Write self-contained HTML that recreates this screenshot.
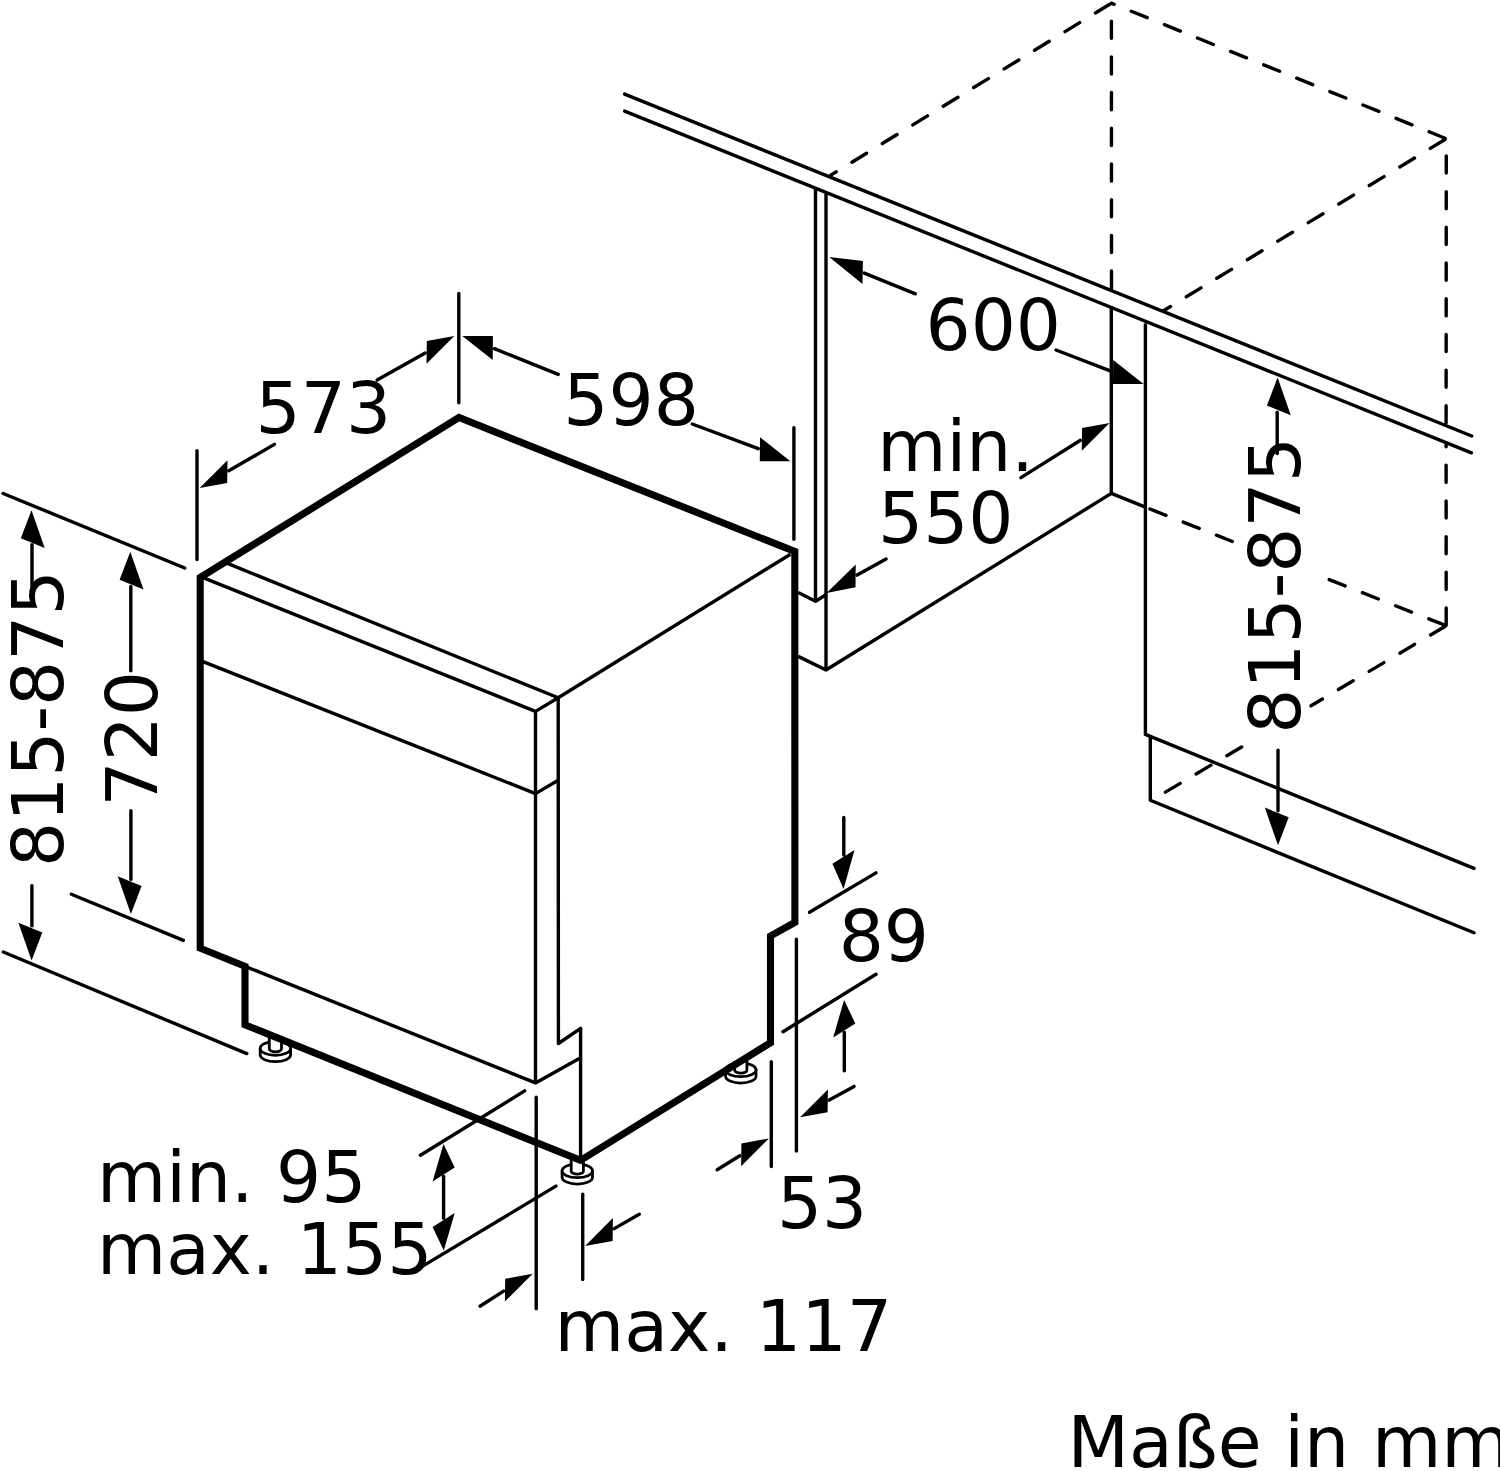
<!DOCTYPE html>
<html lang="de"><head><meta charset="utf-8"><title>Maße in mm</title>
<style>
html,body{margin:0;padding:0;background:#fff;}
body{width:1500px;height:1471px;overflow:hidden;}
svg{display:block;}
text{font-family:"DejaVu Sans","Liberation Sans",sans-serif;fill:#000;stroke:none;}
</style></head><body>
<svg width="1500" height="1471" viewBox="0 0 1500 1471" stroke="#000" fill="none">
<rect x="0" y="0" width="1500" height="1471" fill="#fff" stroke="none"/>
<g stroke-width="2.8" fill="#fff" stroke-linejoin="round"><path d="M260.2,1048.4 v6.4 a15.2,6.9 0 0 0 30.4,0 v-6.4 z"/><ellipse cx="275.4" cy="1048.4" rx="15.2" ry="6.9"/><path d="M269.3,1037.0 V1048.8 a6.1,3.0 0 0 0 12.2,0 V1037.0"/></g>
<g stroke-width="2.8" fill="#fff" stroke-linejoin="round"><path d="M562.1,1170.8 v6.4 a15.2,6.9 0 0 0 30.4,0 v-6.4 z"/><ellipse cx="577.3" cy="1170.8" rx="15.2" ry="6.9"/><path d="M571.2,1158.0 V1171.2 a6.1,3.0 0 0 0 12.2,0 V1158.0"/></g>
<g stroke-width="2.8" fill="#fff" stroke-linejoin="round"><path d="M725.6,1069.8 v6.4 a15.2,6.9 0 0 0 30.4,0 v-6.4 z"/><ellipse cx="740.8" cy="1069.8" rx="15.2" ry="6.9"/><path d="M734.7,1061.0 V1070.2 a6.1,3.0 0 0 0 12.2,0 V1061.0"/></g>
<polyline points="794.8,551.5 459.0,417.5 200.2,577.5 200.2,948.2 245.0,966.3 245.0,1024.8 580.5,1160.4 770.5,1042.7 770.5,936.0 794.9,922.4 794.8,551.5 459.0,417.5" stroke-width="7.1" stroke-linejoin="miter" stroke-linecap="butt" fill="none" />
<polyline points="227.5,563.4 558.2,697.8 790.5,554.2" stroke-width="3.4" stroke-linejoin="round" stroke-linecap="butt" fill="none" />
<polyline points="203.0,577.6 535.5,711.4 558.2,697.8" stroke-width="3.4" stroke-linejoin="round" stroke-linecap="butt" fill="none" />
<polyline points="203.0,661.6 535.5,793.6 558.6,780.0" stroke-width="3.4" stroke-linejoin="round" stroke-linecap="butt" fill="none" />
<line x1="535.5" y1="711.4" x2="535.5" y2="1082.9" stroke-width="3.4" stroke-linecap="butt" />
<polyline points="558.2,697.8 558.4,1043.5 580.6,1028.3 580.6,1157.0" stroke-width="3.4" stroke-linejoin="round" stroke-linecap="butt" fill="none" />
<polyline points="245.0,966.3 535.5,1082.9 580.6,1057.8" stroke-width="3.4" stroke-linejoin="round" stroke-linecap="butt" fill="none" />
<polyline points="1111.4,3.2 831.0,175.0" fill="none" stroke-width="3.4" stroke-linecap="round" stroke-linejoin="round" stroke-dasharray="17.2 18.5" stroke-dashoffset="-1.5"/>
<polyline points="1111.4,3.2 1111.5,291.0" fill="none" stroke-width="3.4" stroke-linecap="round" stroke-linejoin="round" stroke-dasharray="17.2 18.5" stroke-dashoffset="17.75"/>
<polyline points="1111.4,3.2 1446.3,138.7 1446.1,426.0" fill="none" stroke-width="3.4" stroke-linecap="round" stroke-linejoin="round" stroke-dasharray="17.2 18.5" stroke-dashoffset="14.25"/>
<polyline points="1446.3,138.7 1163.0,311.0" fill="none" stroke-width="3.4" stroke-linecap="round" stroke-linejoin="round" stroke-dasharray="17.2 18.5" stroke-dashoffset="-1.5"/>
<polyline points="1446.2,625.7 1446.1,444.5" fill="none" stroke-width="3.4" stroke-linecap="round" stroke-linejoin="round" stroke-dasharray="17.2 18.5" stroke-dashoffset="-0.5"/>
<polyline points="1446.2,625.7 1325.0,578.0" fill="none" stroke-width="3.4" stroke-linecap="round" stroke-linejoin="round" stroke-dasharray="17.2 18.5" stroke-dashoffset="-1.5"/>
<polyline points="1446.2,625.7 1311.0,705.8" fill="none" stroke-width="3.4" stroke-linecap="round" stroke-linejoin="round" stroke-dasharray="17.2 18.5" stroke-dashoffset="-1.0"/>
<polyline points="1145.4,507.2 1236.0,542.9" fill="none" stroke-width="3.4" stroke-linecap="round" stroke-linejoin="round" stroke-dasharray="17.2 18.5" stroke-dashoffset="-4.9"/>
<polyline points="1165.4,792.1 1245.0,745.0" fill="none" stroke-width="3.4" stroke-linecap="round" stroke-linejoin="round" stroke-dasharray="17.2 18.5" stroke-dashoffset="0"/>
<polygon points="623,93.5 1473.3,436.6 1473,453.4 623,110.5" fill="#fff" stroke="none"/>
<line x1="624.6" y1="94.1" x2="1471.7" y2="436.0" stroke-width="3.4" stroke-linecap="round" />
<line x1="624.6" y1="111.1" x2="1471.4" y2="452.8" stroke-width="3.4" stroke-linecap="round" />
<polyline points="815.5,188.6 815.5,601.3" stroke-width="3.4" stroke-linejoin="round" stroke-linecap="butt" fill="none" />
<polyline points="826.0,193.7 826.0,670.0" stroke-width="3.4" stroke-linejoin="round" stroke-linecap="butt" fill="none" />
<polyline points="798.2,592.5 815.5,601.3 826.0,594.8" stroke-width="3.4" stroke-linejoin="round" stroke-linecap="butt" fill="none" />
<polyline points="798.2,656.4 826.0,670.0 1111.3,493.4" stroke-width="3.4" stroke-linejoin="round" stroke-linecap="butt" fill="none" />
<polyline points="1111.3,306.0 1111.3,493.4 1145.4,507.2" stroke-width="3.4" stroke-linejoin="round" stroke-linecap="butt" fill="none" />
<polyline points="1145.4,324.6 1145.4,734.4 1474.0,868.4" stroke-width="3.4" stroke-linejoin="round" stroke-linecap="round" fill="none" />
<polyline points="1150.3,736.8 1150.3,800.3 1474.0,932.8" stroke-width="3.4" stroke-linejoin="round" stroke-linecap="round" fill="none" />
<line x1="458.8" y1="293.4" x2="458.8" y2="402.7" stroke-width="3.4" stroke-linecap="round" />
<line x1="197.0" y1="450.7" x2="197.0" y2="559.5" stroke-width="3.4" stroke-linecap="round" />
<line x1="793.9" y1="427.7" x2="793.9" y2="539.3" stroke-width="3.4" stroke-linecap="round" />
<line x1="3.2" y1="493.5" x2="184.7" y2="568.0" stroke-width="3.4" stroke-linecap="round" />
<line x1="71.3" y1="894.2" x2="183.4" y2="940.4" stroke-width="3.4" stroke-linecap="round" />
<line x1="3.3" y1="952.0" x2="246.8" y2="1053.6" stroke-width="3.4" stroke-linecap="round" />
<line x1="809.5" y1="912.3" x2="876.0" y2="872.9" stroke-width="3.4" stroke-linecap="round" />
<line x1="783.0" y1="1031.7" x2="876.0" y2="974.3" stroke-width="3.4" stroke-linecap="round" />
<line x1="771.3" y1="1061.7" x2="771.3" y2="1166.6" stroke-width="3.4" stroke-linecap="round" />
<line x1="796.4" y1="939.1" x2="796.4" y2="1151.0" stroke-width="3.4" stroke-linecap="round" />
<line x1="536.2" y1="1097.2" x2="536.2" y2="1308.8" stroke-width="3.4" stroke-linecap="round" />
<line x1="582.7" y1="1194.2" x2="582.7" y2="1279.6" stroke-width="3.4" stroke-linecap="round" />
<line x1="420.4" y1="1155.2" x2="524.6" y2="1090.9" stroke-width="3.4" stroke-linecap="round" />
<line x1="421.0" y1="1267.1" x2="555.9" y2="1186.1" stroke-width="3.4" stroke-linecap="round" />
<polygon points="454.3,335.9 426.8,340.9 426.5,363.7" fill="#000" stroke="none"/>
<line x1="425.2" y1="353.1" x2="377.1" y2="380.1" stroke-width="3.4" stroke-linecap="round" />
<polygon points="199.7,488.1 227.2,483.1 227.5,460.3" fill="#000" stroke="none"/>
<line x1="228.8" y1="470.8" x2="274.4" y2="444.4" stroke-width="3.4" stroke-linecap="round" />
<polygon points="462.3,336.1 492.9,336.1 492.7,360.0" fill="#000" stroke="none"/>
<line x1="494.4" y1="348.7" x2="558.2" y2="374.4" stroke-width="3.4" stroke-linecap="round" />
<polygon points="790.4,461.2 759.8,461.2 760.0,437.3" fill="#000" stroke="none"/>
<line x1="758.3" y1="448.7" x2="692.2" y2="424.0" stroke-width="3.4" stroke-linecap="round" />
<polygon points="829.2,257.0 862.9,261.1 862.5,283.9" fill="#000" stroke="none"/>
<line x1="864.3" y1="273.1" x2="915.4" y2="293.8" stroke-width="3.4" stroke-linecap="round" />
<polygon points="1143.6,384.0 1113.0,384.0 1113.2,360.1" fill="#000" stroke="none"/>
<line x1="1111.5" y1="371.4" x2="1056.0" y2="350.0" stroke-width="3.4" stroke-linecap="round" />
<polygon points="1109.6,423.0 1082.1,428.0 1081.8,450.8" fill="#000" stroke="none"/>
<line x1="1080.5" y1="440.3" x2="1020.9" y2="477.6" stroke-width="3.4" stroke-linecap="round" />
<polygon points="826.6,592.9 855.5,587.3 855.7,564.5" fill="#000" stroke="none"/>
<line x1="857.1" y1="575.1" x2="886.1" y2="559.0" stroke-width="3.4" stroke-linecap="round" />
<polygon points="1277.6,377.6 1266.9,405.6 1290.8,415.3" fill="#000" stroke="none"/>
<line x1="1277.2" y1="412.2" x2="1277.2" y2="453.5" stroke-width="3.4" stroke-linecap="round" />
<polygon points="1278.0,845.3 1288.7,817.3 1264.8,807.6" fill="#000" stroke="none"/>
<line x1="1278.0" y1="810.7" x2="1278.0" y2="750.1" stroke-width="3.4" stroke-linecap="round" />
<polygon points="31.5,510.2 20.8,538.2 44.7,547.9" fill="#000" stroke="none"/>
<line x1="32.0" y1="544.8" x2="32.0" y2="585.7" stroke-width="3.4" stroke-linecap="round" />
<polygon points="31.6,960.5 42.3,932.5 18.4,922.8" fill="#000" stroke="none"/>
<line x1="31.9" y1="925.9" x2="31.9" y2="885.7" stroke-width="3.4" stroke-linecap="round" />
<polygon points="130.3,551.8 119.6,579.8 143.5,589.5" fill="#000" stroke="none"/>
<line x1="130.8" y1="586.4" x2="130.8" y2="670.7" stroke-width="3.4" stroke-linecap="round" />
<polygon points="130.9,914.0 141.6,886.0 117.7,876.3" fill="#000" stroke="none"/>
<line x1="130.9" y1="879.4" x2="130.9" y2="810.7" stroke-width="3.4" stroke-linecap="round" />
<polygon points="843.6,889.0 854.5,849.9 832.4,863.8" fill="#000" stroke="none"/>
<line x1="843.8" y1="855.1" x2="843.8" y2="817.4" stroke-width="3.4" stroke-linecap="round" />
<polygon points="844.1,999.9 833.2,1037.4 855.3,1023.5" fill="#000" stroke="none"/>
<line x1="844.3" y1="1032.2" x2="844.3" y2="1070.8" stroke-width="3.4" stroke-linecap="round" />
<polygon points="768.9,1138.4 741.4,1143.4 741.1,1166.2" fill="#000" stroke="none"/>
<line x1="739.8" y1="1155.7" x2="717.2" y2="1169.8" stroke-width="3.4" stroke-linecap="round" />
<polygon points="800.1,1117.3 827.6,1112.3 827.9,1089.5" fill="#000" stroke="none"/>
<line x1="829.2" y1="1100.1" x2="854.1" y2="1086.4" stroke-width="3.4" stroke-linecap="round" />
<polygon points="532.7,1273.8 505.2,1278.8 504.9,1301.6" fill="#000" stroke="none"/>
<line x1="503.6" y1="1291.1" x2="480.0" y2="1306.2" stroke-width="3.4" stroke-linecap="round" />
<polygon points="585.1,1245.9 612.6,1240.9 612.9,1218.1" fill="#000" stroke="none"/>
<line x1="614.2" y1="1228.6" x2="639.3" y2="1214.2" stroke-width="3.4" stroke-linecap="round" />
<polygon points="443.5,1143.9 432.6,1181.4 454.7,1167.5" fill="#000" stroke="none"/>
<polygon points="443.8,1250.6 454.7,1213.1 432.6,1227.0" fill="#000" stroke="none"/>
<line x1="443.6" y1="1176.2" x2="443.6" y2="1218.3" stroke-width="3.4" stroke-linecap="round" />
<text x="255.6" y="433.2" font-size="71.0" >573</text>
<text x="563.3" y="424.5" font-size="71.0" >598</text>
<text x="925.5" y="350.2" font-size="71.0" >600</text>
<text x="877.3" y="471.0" font-size="71.0" >min.</text>
<text x="878.0" y="542.5" font-size="71.0" >550</text>
<text x="838.7" y="960.7" font-size="71.0" >89</text>
<text x="776.9" y="1228.3" font-size="71.0" >53</text>
<text x="97.0" y="1201.8" font-size="71.0" >min. 95</text>
<text x="97.0" y="1273.5" font-size="71.0" >max. 155</text>
<text x="554.5" y="1351.0" font-size="71.5" >max. 117</text>
<text x="1067.6" y="1467.0" font-size="71.3" >Maße in mm</text>
<text x="63.2" y="867.0" font-size="71.0" transform="rotate(-90 63.2 867.0)" >815-875</text>
<text x="157.0" y="806.5" font-size="71.0" transform="rotate(-90 157.0 806.5)" >720</text>
<text x="1300.0" y="733.8" font-size="71.0" transform="rotate(-90 1300.0 733.8)" >815-875</text>
</svg>
</body></html>
